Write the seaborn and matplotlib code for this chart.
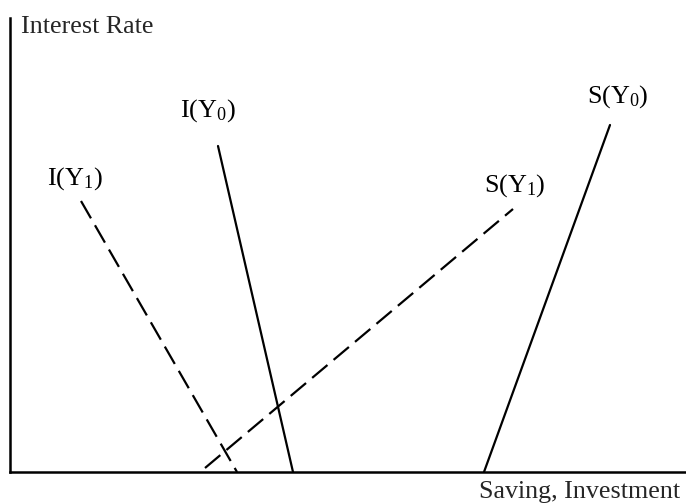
import matplotlib
matplotlib.use("Agg")
import matplotlib.pyplot as plt
import seaborn as sns
import pandas as pd

# Curve endpoints (x = quantity, y = interest rate)
curves = ["I(Y0)", "S(Y0)", "I(Y1)", "S(Y1)"]
x_start = [218, 484, 81, 205]
y_start = [358, 32, 303, 36]
x_end = [293, 610, 237, 513]
y_end = [32, 379, 32, 295]

labels = [r"I(Y$_{\mathrm{0}}$)", r"S(Y$_{\mathrm{0}}$)", r"I(Y$_{\mathrm{1}}$)", r"S(Y$_{\mathrm{1}}$)"]
label_x = [180, 587, 47, 484]
label_y = [387, 401, 319, 312]

x_axis_label = "Saving, Investment"
y_axis_label = "Interest Rate"

rows = []
for c, xs, ys, xe, ye in zip(curves, x_start, y_start, x_end, y_end):
    rows.append({"curve": c, "x": xs, "y": ys})
    rows.append({"curve": c, "x": xe, "y": ye})
df = pd.DataFrame(rows)

sns.set_theme(style="white")
plt.rcParams["font.family"] = ["Liberation Serif", "DejaVu Serif"]
plt.rcParams["mathtext.fontset"] = "custom"
plt.rcParams["mathtext.rm"] = "Liberation Serif"
plt.rcParams["mathtext.it"] = "Liberation Serif:italic"

W, H = 686, 504
fig = plt.figure(figsize=(W / 100, H / 100), dpi=100)
ax = fig.add_axes([10 / W, 32 / H, 676 / W, 454 / H])

dash_map = {"I(Y0)": "", "S(Y0)": "", "I(Y1)": (9, 3.6), "S(Y1)": (9, 3.6)}
sns.lineplot(data=df, x="x", y="y", hue="curve", style="curve",
             palette=["black"] * 4, dashes=dash_map, linewidth=1.6,
             estimator=None, sort=False, legend=False, ax=ax)

FS = 18.7
for t, lx, ly in zip(labels, label_x, label_y):
    ax.text(lx, ly, t, fontsize=FS, ha="left", va="baseline", color="black")

ax.set_xlim(10, 686)
ax.set_ylim(32, 486)
ax.set_xticks([])
ax.set_yticks([])
ax.set_xlabel("")
ax.set_ylabel("")
for s in ["top", "right"]:
    ax.spines[s].set_visible(False)
for s in ["left", "bottom"]:
    ax.spines[s].set_color("black")
    ax.spines[s].set_linewidth(1.8)

fig.text(21 / W, 1 - 33 / H, y_axis_label, fontsize=FS, ha="left", va="baseline")
fig.text(680 / W, 1 - 498 / H, x_axis_label, fontsize=FS, ha="right", va="baseline")

fig.savefig("out.png", dpi=100, facecolor="white")
